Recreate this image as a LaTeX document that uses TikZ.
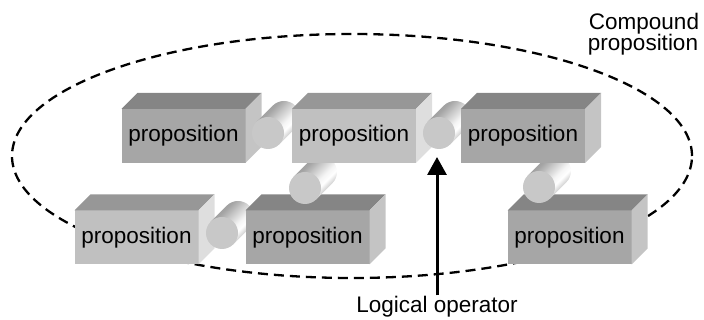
\documentclass[tikz,border=0pt]{standalone}
\usepackage{fontspec}
\setmainfont{Liberation Sans}
\usetikzlibrary{arrows.meta,calc,shapes.geometric}
\definecolor{dkfront}{HTML}{A6A6A6}
\definecolor{dktop}{HTML}{858585}
\definecolor{dkside}{HTML}{C4C4C4}
\definecolor{ltfront}{HTML}{C0C0C0}
\definecolor{lttop}{HTML}{979797}
\definecolor{ltside}{HTML}{DEDEDE}
\definecolor{cylfill}{HTML}{C8C8C8}
\pgfdeclarehorizontalshading{cylbody}{100bp}{rgb(0bp)=(0.62,0.62,0.62); rgb(34bp)=(0.64,0.64,0.64); rgb(55bp)=(0.96,0.96,0.96); rgb(61bp)=(1,1,1); rgb(67bp)=(0.84,0.84,0.84); rgb(100bp)=(0.84,0.84,0.84)}
\tikzset{
  pbox/.style={rectangle, inner sep=0pt, outer sep=0pt, minimum width=124pt, minimum height=54pt,
    font=\fontsize{22.5}{27}\selectfont},
  cylendnode/.style={circle, fill=cylfill, inner sep=0pt, outer sep=0pt, minimum size=32pt},
  lbl/.style={font=\fontsize{22.5}{27}\selectfont, inner sep=1pt},
  hull/.style={draw, ellipse, line width=2.3pt, dash pattern=on 10pt off 6pt, inner sep=0pt,
    minimum width=680pt, minimum height=244pt}
}
\newcommand\mkbox[4]{%
  \node[pbox, fill=#4front] (#1) at (#2,#3) {proposition};
  \fill[#4top] (#1.north west) -- ++(16,16) -- ($(#1.north east)+(16,16)$) -- (#1.north east) -- cycle;
  \fill[#4side] (#1.north east) -- ++(16,16) -- ($(#1.south east)+(16,16)$) -- (#1.south east) -- cycle;
}
\newcommand\mkcyl[3]{%
  \coordinate (#1c) at (#2,#3);
  \shade[shading=cylbody, shading angle=-45] ($(#1c)+(135:16)$) -- ($(#1c)+(16,16)+(135:16)$)
    arc[start angle=135, end angle=-45, radius=16pt] -- ($(#1c)+(-45:16)$) -- cycle;
  \node[cylendnode] (#1) at (#1c) {};
}
\begin{document}
\begin{tikzpicture}[x=1pt,y=1pt]
\useasboundingbox (0,0) rectangle (704,320);
\node[hull] (cmp) at (352,164) {};
% bottom row
\mkbox{b4}{136.5}{82.5}{lt}
\mkcyl{cd}{222}{87}
\mkbox{b5}{307.5}{82.5}{dk}
\mkcyl{cc}{305}{132}
\mkbox{b6}{569.5}{82.5}{dk}
\mkcyl{ce}{539}{133}
% top row
\mkbox{b1}{183.5}{184}{dk}
\mkcyl{ca}{268}{187}
\mkbox{b2}{354}{184}{lt}
\mkcyl{cb}{439}{187}
\mkbox{b3}{523}{184}{dk}
% labels
\node[lbl, anchor=base] (cp1) at (644,290) {Compound};
\node[lbl, anchor=base] (cp2) at (643,269) {proposition};
\node[lbl, anchor=base] (lo) at (437,7) {Logical operator};
\coordinate (tip) at (437,163);
\draw[-{Triangle[length=18pt,width=19pt]}, line width=3pt] (lo.north) -- (lo.north |- tip);
\end{tikzpicture}
\end{document}
